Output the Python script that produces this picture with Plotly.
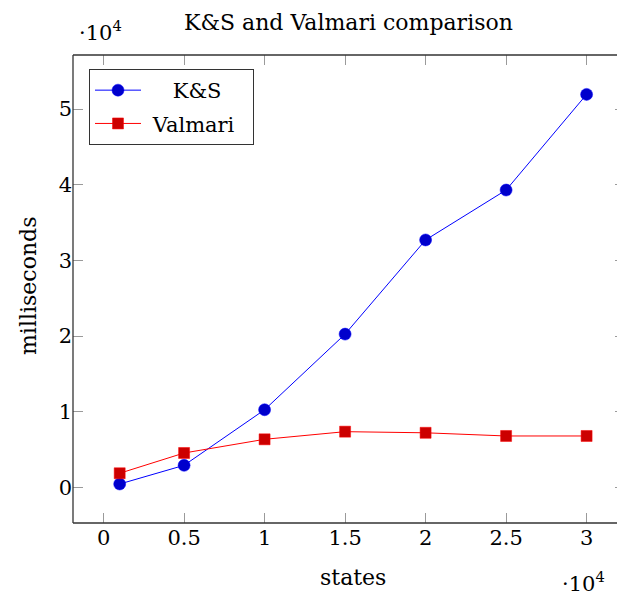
import plotly.graph_objects as go

states = [1000, 5000, 10000, 15000, 20000, 25000, 30000]
ks_ms = [430, 2900, 10250, 20250, 32700, 39300, 51950]
valmari_ms = [1850, 4530, 6340, 7350, 7200, 6780, 6780]

x_ticks = [0, 5000, 10000, 15000, 20000, 25000, 30000]
x_ticklabels = ["0", "0.5", "1", "1.5", "2", "2.5", "3"]
y_ticks = [0, 10000, 20000, 30000, 40000, 50000]
y_ticklabels = ["0", "1", "2", "3", "4", "5"]

FONT = "DejaVu Serif"
FS = 21
NB = "\u00a0"

fig = go.Figure()
fig.add_trace(go.Scatter(
    x=states, y=ks_ms, name=NB * 4 + "K&S", mode="lines+markers", legendgroup="a",
    line=dict(color="#0000ff", width=1),
    marker=dict(symbol="circle", size=12, color="#0000cc", line=dict(color="#0000ff", width=0.5)),
))
fig.add_trace(go.Scatter(
    x=states, y=valmari_ms, name=NB + "Valmari" + NB * 2, mode="lines+markers", legendgroup="b",
    line=dict(color="#ff0000", width=1),
    marker=dict(symbol="square", size=11, color="#cc0000", line=dict(color="#ff0000", width=0.5)),
))

axis_common = dict(
    showgrid=False, zeroline=False, showline=False, automargin=False,
    ticks="inside", ticklen=10, tickwidth=1, tickcolor="#9a9a9a",
    mirror="ticks", tickfont=dict(family=FONT, size=FS, color="black"),
)

# page body has an 8px margin: work in window pixels, shift by OFF
OFF = 8
W, H = 625 - OFF, 599 - OFF
L, T = 73 - OFF, 55 - OFF
B = H - (523 - OFF)
PW, PH = W - L, H - T - B

def px(x):
    return (x - OFF - L) / PW

def py(y):
    return (H - B - (y - OFF)) / PH

fig.update_layout(
    width=W, height=H,
    margin=dict(l=L, r=0, t=T, b=B, autoexpand=False),
    paper_bgcolor="white", plot_bgcolor="white",
    font=dict(family=FONT, size=FS, color="black"),
    xaxis=dict(range=[-1900, 32385], tickvals=x_ticks, ticktext=x_ticklabels,
               **axis_common),
    yaxis=dict(range=[-4727, 57157], tickvals=y_ticks, ticktext=y_ticklabels,
               **axis_common),
    legend=dict(x=px(89), y=py(69), xanchor="left", yanchor="top",
                bordercolor="#333333", borderwidth=1, bgcolor="white",
                font=dict(family=FONT, size=FS), tracegroupgap=3, itemwidth=46),
    showlegend=True,
    shapes=[
        dict(type="line", xref="paper", yref="paper", x0=0, x1=1.01, y0=0, y1=0,
             line=dict(color="#333333", width=1.3)),
        dict(type="line", xref="paper", yref="paper", x0=0, x1=1.01, y0=1, y1=1,
             line=dict(color="#333333", width=1.3)),
        dict(type="line", xref="paper", yref="paper", x0=0, x1=0, y0=0, y1=1,
             line=dict(color="#333333", width=1.3)),
    ],
    annotations=[
        dict(text="K&S and Valmari comparison", xref="paper", yref="paper",
             x=px(348), y=py(22), xanchor="center", yanchor="middle", showarrow=False,
             font=dict(family=FONT, size=22)),
        dict(text="states", xref="paper", yref="paper",
             x=px(353), y=py(577), xanchor="center", yanchor="middle", showarrow=False,
             font=dict(family=FONT, size=22)),
        dict(text="milliseconds", xref="paper", yref="paper", textangle=-90,
             x=px(28), y=py(286), xanchor="center", yanchor="middle", showarrow=False,
             font=dict(family=FONT, size=22)),
        dict(text="·10<sup>4</sup>", xref="paper", yref="paper", x=px(100), y=py(31),
             xanchor="center", yanchor="middle", showarrow=False,
             font=dict(family=FONT, size=FS)),
        dict(text="·10<sup>4</sup>", xref="paper", yref="paper", x=px(583), y=py(582),
             xanchor="center", yanchor="middle", showarrow=False,
             font=dict(family=FONT, size=FS)),
    ],
)

fig.write_html("out.html")
